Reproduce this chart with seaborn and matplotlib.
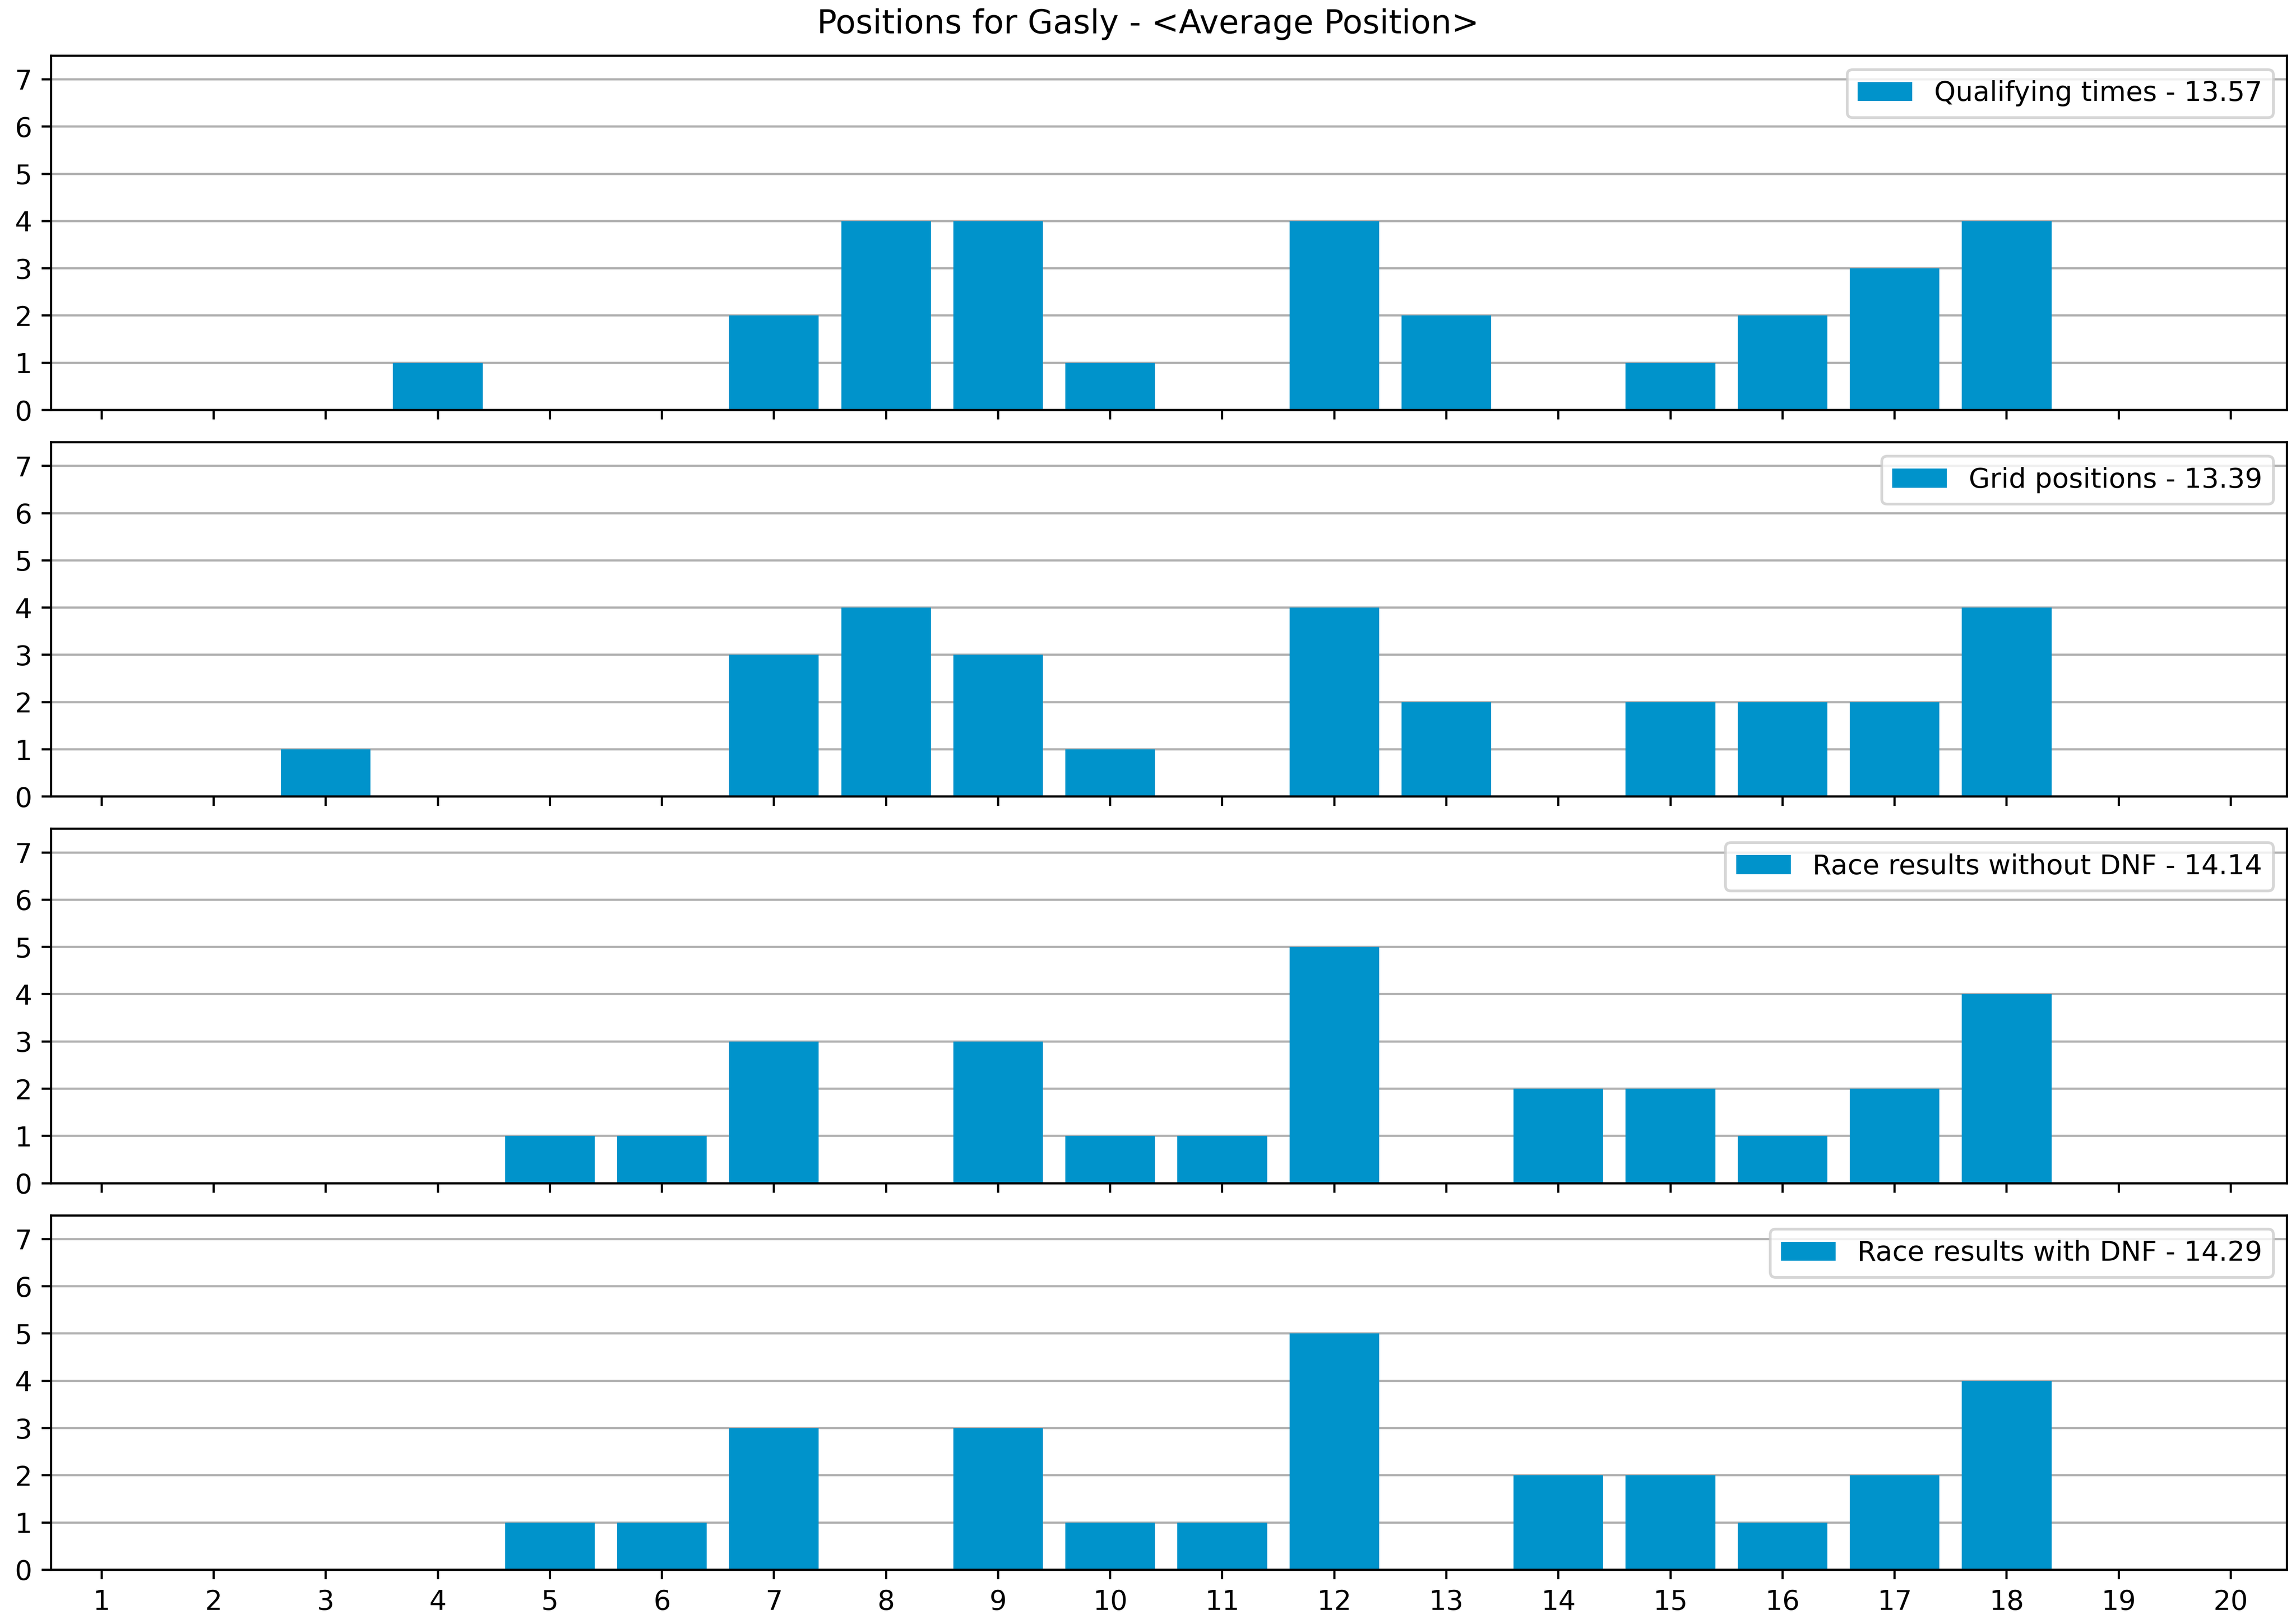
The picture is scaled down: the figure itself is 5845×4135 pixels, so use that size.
import matplotlib
matplotlib.use("Agg")
import matplotlib.pyplot as plt
import seaborn as sns
import numpy as np
import pandas as pd

positions = list(range(1, 21))
qualifying = [0, 0, 0, 1, 0, 0, 2, 4, 4, 1, 0, 4, 2, 0, 1, 2, 3, 4, 0, 0]
grid = [0, 0, 1, 0, 0, 0, 3, 4, 3, 1, 0, 4, 2, 0, 2, 2, 2, 4, 0, 0]
race_no_dnf = [0, 0, 0, 0, 1, 1, 3, 0, 3, 1, 1, 5, 0, 2, 2, 1, 2, 4, 0, 0]
race_dnf = [0, 0, 0, 0, 1, 1, 3, 0, 3, 1, 1, 5, 0, 2, 2, 1, 2, 4, 0, 0]
labels = ["Qualifying times - 13.57", "Grid positions - 13.39",
          "Race results without DNF - 14.14", "Race results with DNF - 14.29"]
title = "Positions for Gasly - <Average Position>"
yticks = list(range(0, 8))

color = "#0093CB"

fig, axes = plt.subplots(4, 1, figsize=(11.69, 8.27), dpi=500, sharex=True)
series = [qualifying, grid, race_no_dnf, race_dnf]
for ax, vals, lab in zip(axes, series, labels):
    df = pd.DataFrame({"pos": positions, "count": vals})
    sns.barplot(data=df, x="pos", y="count", native_scale=True, color=color,
                width=0.8, ax=ax, label=lab, saturation=1)
    ax.set_axisbelow(True)
    ax.yaxis.grid(True, color="#b0b0b0", linewidth=0.8)
    ax.set_ylim(0, 7.5)
    ax.set_yticks(yticks)
    ax.set_xlim(0.55, 20.5)
    ax.set_xticks(positions)
    ax.set_xlabel("")
    ax.set_ylabel("")
    for s in ax.spines.values():
        s.set_visible(True)
        s.set_color("black")
        s.set_linewidth(0.8)
    ax.legend(loc="upper right")

axes[-1].set_xticklabels([str(p) for p in positions])
fig.suptitle(title, fontsize=12, y=0.995)
fig.subplots_adjust(left=0.0223, right=0.996, top=0.9657, bottom=0.0334, hspace=0.091)
fig.savefig("out.png", dpi=500)
